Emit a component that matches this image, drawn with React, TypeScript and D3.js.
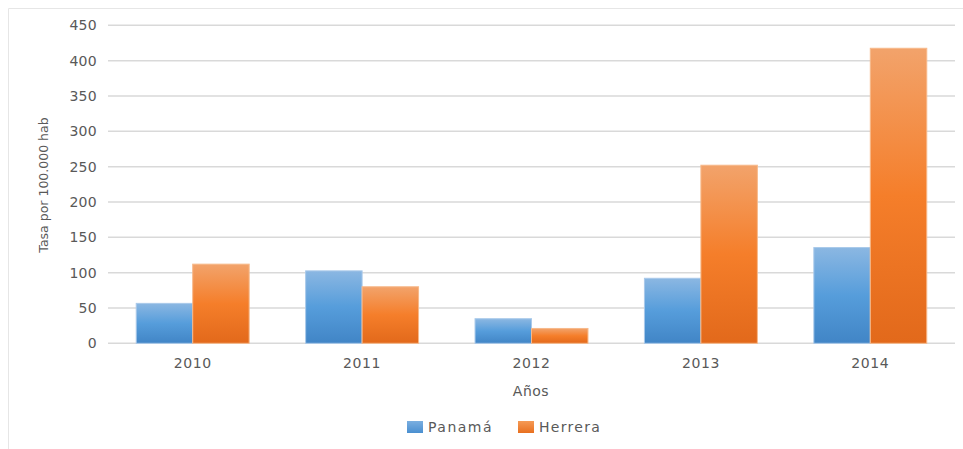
import React from "react";
import * as d3 from "d3";

const years = ["2010", "2011", "2012", "2013", "2014"];
const panama = [56.5, 102.5, 34.8, 92, 135.5];
const herrera = [112, 80, 21, 252, 417.5];
const seriesNames = ["Panamá", "Herrera"];
const yTicks = [0, 50, 100, 150, 200, 250, 300, 350, 400, 450];

const W = 963;
const H = 449;
const left = 108;
const right = 955;
const top = 25.3;
const bottom = 343.3;
const FONT = "'DejaVu Sans', sans-serif";
const TXT = "#595959";

export default function App() {
  const x = d3.scaleBand<string>().domain(years).range([left, right]).paddingInner(1 / 3).paddingOuter(1 / 6);
  const x1 = d3.scaleBand<string>().domain(seriesNames).range([0, x.bandwidth()]);
  const y = d3.scaleLinear().domain([0, 450]).range([bottom, top]);
  const series = [panama, herrera];
  const fills = ["url(#gBlue)", "url(#gOrange)"];
  const strokes = ["#a9c9ea", "#f7b98a"];

  return (
    <svg width={W} height={H} style={{ position: "absolute", left: 0, top: 0, display: "block" }}>
      <defs>
        <linearGradient id="gBlue" x1="0" y1="0" x2="0" y2="1">
          <stop offset="0" stopColor="#8bb7e2" />
          <stop offset="0.5" stopColor="#569ddb" />
          <stop offset="1" stopColor="#4185c6" />
        </linearGradient>
        <linearGradient id="gOrange" x1="0" y1="0" x2="0" y2="1">
          <stop offset="0" stopColor="#f2a36b" />
          <stop offset="0.5" stopColor="#f57e2a" />
          <stop offset="1" stopColor="#e2691b" />
        </linearGradient>
        <linearGradient id="gBlueL" x1="0" y1="0" x2="0" y2="1">
          <stop offset="0" stopColor="#7aaee0" />
          <stop offset="1" stopColor="#4a8fd0" />
        </linearGradient>
        <linearGradient id="gOrangeL" x1="0" y1="0" x2="0" y2="1">
          <stop offset="0" stopColor="#f59a55" />
          <stop offset="1" stopColor="#e8701f" />
        </linearGradient>
      </defs>
      <rect x={0} y={0} width={W} height={H} fill="#ffffff" />
      <line x1={8.5} y1={8.5} x2={W} y2={8.5} stroke="#e6e6e6" strokeWidth={1} />
      <line x1={8.5} y1={8.5} x2={8.5} y2={H} stroke="#e6e6e6" strokeWidth={1} />
      {yTicks.map((t) => (
        <g key={t}>
          <line x1={left} x2={right} y1={y(t)} y2={y(t)} stroke="#d9d9d9" strokeWidth={1.5} />
          <text x={97} y={y(t)} dy="0.36em" textAnchor="end" fontFamily={FONT} fontSize={14} fill={TXT} letterSpacing={0.3}>
            {t}
          </text>
        </g>
      ))}
      {years.map((yr, i) => (
        <g key={yr}>
          {series.map((s, j) => (
            <rect
              key={j}
              x={(x(yr) as number) + (x1(seriesNames[j]) as number)}
              y={y(s[i])}
              width={x1.bandwidth()}
              height={bottom - y(s[i])}
              fill={fills[j]}
              stroke={strokes[j]}
              strokeWidth={1}
            />
          ))}
          <text
            x={(x(yr) as number) + x.bandwidth() / 2}
            y={363}
            dy="0.36em"
            textAnchor="middle"
            fontFamily={FONT}
            fontSize={14}
            fill={TXT}
            letterSpacing={0.6}
          >
            {yr}
          </text>
        </g>
      ))}
      <text x={531} y={391} dy="0.36em" textAnchor="middle" fontFamily={FONT} fontSize={14} fill={TXT} letterSpacing={0.5}>
        Años
      </text>
      <text
        transform={`translate(43,185) rotate(-90)`}
        textAnchor="middle"
        dy="0.36em"
        fontFamily={FONT}
        fontSize={12.5}
        fill={TXT}
      >
        Tasa  por 100.000 hab
      </text>
      <rect x={407} y={421} width={16} height={12} fill="url(#gBlueL)" />
      <text x={428} y={427} dy="0.36em" fontFamily={FONT} fontSize={14} fill={TXT} letterSpacing={1.5}>
        {seriesNames[0]}
      </text>
      <rect x={518} y={421} width={16} height={12} fill="url(#gOrangeL)" />
      <text x={539} y={427} dy="0.36em" fontFamily={FONT} fontSize={14} fill={TXT} letterSpacing={1.3}>
        {seriesNames[1]}
      </text>
    </svg>
  );
}
